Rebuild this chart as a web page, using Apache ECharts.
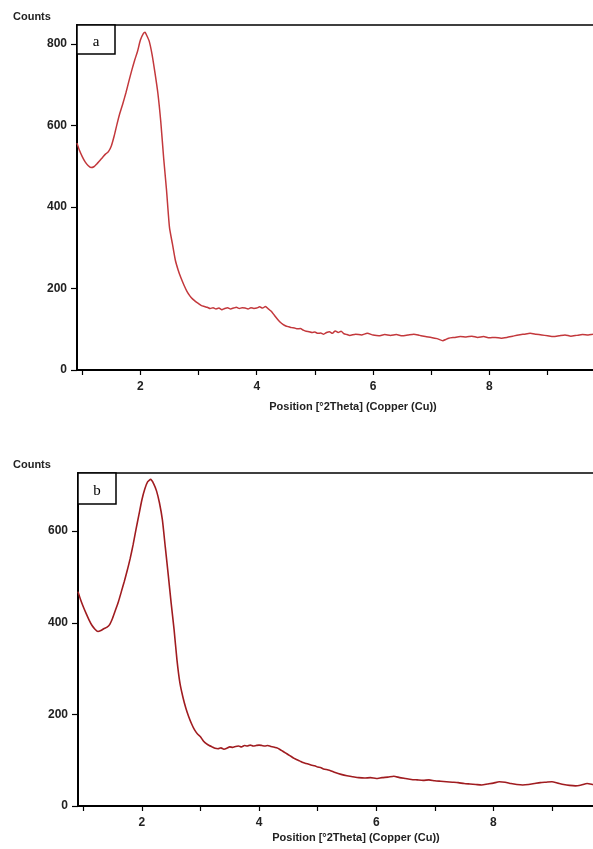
<!DOCTYPE html>
<html>
<head>
<meta charset="utf-8">
<script src="https://cdn.jsdelivr.net/npm/echarts@6/dist/echarts.min.js"></script>
<style>
  html, body { margin: 0; padding: 0; background: #fff; }
  #chart { width: 593px; height: 849px; }
</style>
</head>
<body>
<div id="chart"></div>
<script>
// pattern a
const xA = [0.91, 0.95, 1.00, 1.05, 1.10, 1.15, 1.20, 1.25, 1.30, 1.35, 1.40, 1.45, 1.50, 1.55, 1.60, 1.65, 1.70, 1.75, 1.80, 1.85,
  1.90, 1.95, 2.00, 2.05, 2.08, 2.10, 2.15, 2.20, 2.25, 2.30, 2.35, 2.40, 2.45, 2.50, 2.55, 2.60, 2.65, 2.70, 2.75, 2.80,
  2.85, 2.90, 2.95, 3.00, 3.05, 3.10, 3.15, 3.20, 3.25, 3.30, 3.35, 3.40, 3.45, 3.50, 3.55, 3.60, 3.65, 3.70, 3.75, 3.80,
  3.85, 3.90, 3.95, 4.00, 4.05, 4.10, 4.15, 4.20, 4.25, 4.30, 4.35, 4.40, 4.45, 4.50, 4.55, 4.60, 4.65, 4.70, 4.75, 4.80,
  4.85, 4.90, 4.95, 5.00, 5.05, 5.10, 5.15, 5.20, 5.25, 5.30, 5.35, 5.40, 5.45, 5.50, 5.55, 5.60, 5.70, 5.80, 5.90, 6.00,
  6.10, 6.20, 6.30, 6.40, 6.50, 6.60, 6.70, 6.80, 6.90, 7.00, 7.10, 7.20, 7.25, 7.30, 7.40, 7.50, 7.60, 7.70, 7.80, 7.90,
  8.00, 8.10, 8.20, 8.30, 8.40, 8.50, 8.60, 8.70, 8.80, 8.90, 9.00, 9.10, 9.20, 9.30, 9.40, 9.50, 9.60, 9.70, 9.80, 9.90, 10.00];
const countsA = [557, 540, 524, 511, 502, 497, 499, 506, 514, 522, 530, 536, 550, 575, 605, 632, 655, 680, 708, 735,
  760, 782, 810, 826, 829, 824, 808, 775, 730, 680, 610, 520, 440, 350, 310, 270, 245, 225, 208, 193,
  182, 174, 168, 163, 158, 156, 154, 151, 153, 150, 152, 148, 151, 153, 150, 152, 154, 151, 153, 152,
  150, 153, 151, 152, 155, 152, 156, 150, 144, 135, 126, 118, 112, 108, 106, 104, 103, 101, 102, 98,
  95, 94, 92, 93, 90, 91, 88, 92, 94, 90, 96, 92, 95, 89, 87, 85, 88, 86, 90, 86,
  84, 87, 85, 87, 84, 86, 88, 85, 82, 80, 77, 72, 75, 78, 80, 82, 81, 83, 80, 82,
  79, 80, 78, 80, 83, 86, 88, 90, 88, 86, 84, 82, 84, 86, 83, 85, 87, 86, 88, 87, 89];

// pattern b
const xB = [0.91, 0.95, 1.00, 1.05, 1.10, 1.15, 1.20, 1.25, 1.30, 1.35, 1.40, 1.45, 1.50, 1.55, 1.60, 1.65, 1.70, 1.75, 1.80, 1.85,
  1.90, 1.95, 2.00, 2.05, 2.10, 2.15, 2.20, 2.25, 2.30, 2.35, 2.40, 2.45, 2.50, 2.55, 2.60, 2.65, 2.70, 2.75, 2.80, 2.85,
  2.90, 2.95, 3.00, 3.05, 3.10, 3.15, 3.20, 3.25, 3.30, 3.35, 3.40, 3.45, 3.50, 3.55, 3.60, 3.65, 3.70, 3.75, 3.80, 3.85,
  3.90, 3.95, 4.00, 4.05, 4.10, 4.15, 4.20, 4.25, 4.30, 4.35, 4.40, 4.45, 4.50, 4.55, 4.60, 4.65, 4.70, 4.75, 4.80, 4.85,
  4.90, 4.95, 5.00, 5.05, 5.10, 5.20, 5.30, 5.40, 5.50, 5.60, 5.70, 5.80, 5.90, 6.00, 6.10, 6.20, 6.30, 6.40, 6.50, 6.60,
  6.70, 6.80, 6.90, 7.00, 7.10, 7.20, 7.30, 7.40, 7.50, 7.60, 7.70, 7.80, 7.90, 8.00, 8.10, 8.20, 8.30, 8.40, 8.50, 8.60,
  8.70, 8.80, 8.90, 9.00, 9.10, 9.20, 9.30, 9.40, 9.50, 9.60, 9.70, 9.80, 9.90, 10.00];
const countsB = [468, 452, 435, 420, 406, 394, 386, 381, 383, 387, 390, 396, 410, 428, 446, 468, 490, 514, 540, 570,
  604, 636, 668, 692, 708, 713, 704, 688, 662, 625, 565, 505, 443, 385, 318, 268, 238, 214, 195, 179,
  166, 157, 151, 142, 136, 132, 129, 126, 125, 127, 124, 126, 129, 128, 130, 131, 129, 132, 131, 133,
  131, 132, 133, 132, 131, 132, 130, 129, 127, 124, 120, 116, 112, 108, 104, 101, 98, 95, 93, 91,
  89, 88, 85, 84, 81, 78, 73, 69, 66, 64, 62, 61, 62, 60, 62, 63, 65, 62, 60, 58,
  57, 56, 57, 55, 54, 53, 52, 51, 49, 48, 47, 46, 48, 50, 53, 52, 49, 47, 46, 47,
  49, 51, 52, 53, 50, 47, 45, 44, 46, 49, 47, 45, 44, 46];

const xLabels = [2, 4, 6, 8];
const xTicks = [1, 2, 3, 4, 5, 6, 7, 8, 9, 10];
const yTicksA = [0, 200, 400, 600, 800];
const yTicksB = [0, 200, 400, 600];

const font = "'Liberation Sans', Arial, sans-serif";

function xAxisOf(gridIndex, gap) {
  return {
    type: "value",
    gridIndex: gridIndex,
    min: 0.91,
    max: 10.4,
    name: "Position [°2Theta] (Copper (Cu))",
    nameLocation: "middle",
    nameGap: gap,
    nameTextStyle: { fontFamily: font, fontWeight: "bold", fontSize: 11, color: "#222" },
    axisLine: { lineStyle: { color: "#000", width: 2 } },
    axisTick: { customValues: xTicks, length: 5, lineStyle: { color: "#000", width: 1.2 } },
    axisLabel: { customValues: xLabels, margin: 11, fontFamily: font, fontWeight: "bold", fontSize: 12, color: "#222" },
    splitLine: { show: false }
  };
}

function yAxisOf(gridIndex, max, ticks) {
  return {
    type: "value",
    gridIndex: gridIndex,
    min: 0,
    max: max,
    axisLine: { show: true, lineStyle: { color: "#000", width: 2 } },
    axisTick: { show: true, customValues: ticks, length: 6, lineStyle: { color: "#000", width: 1.2 } },
    axisLabel: { customValues: ticks, margin: 10, fontFamily: font, fontWeight: "bold", fontSize: 12, color: "#222" },
    splitLine: { show: false }
  };
}

const chart = echarts.init(document.getElementById("chart"));

const options = {
  backgroundColor: "#fff",
  animation: false,
  grid: [
    { left: 77, top: 25, width: 552, height: 345, outerBoundsMode: "none", containLabel: false,
      show: true, borderColor: "#000", borderWidth: 1.5 },
    { left: 78, top: 473, width: 556, height: 333, outerBoundsMode: "none", containLabel: false,
      show: true, borderColor: "#000", borderWidth: 1.5 }
  ],
  xAxis: [xAxisOf(0, 31), xAxisOf(1, 26)],
  yAxis: [yAxisOf(0, 847, yTicksA), yAxisOf(1, 727, yTicksB)],
  series: [
    {
      type: "line",
      xAxisIndex: 0,
      yAxisIndex: 0,
      showSymbol: false,
      smooth: 0.2,
      data: xA.map((x, i) => [x, countsA[i]]),
      lineStyle: { color: "#c3383c", width: 1.5 }
    },
    {
      type: "line",
      xAxisIndex: 1,
      yAxisIndex: 1,
      showSymbol: false,
      smooth: 0.2,
      data: xB.map((x, i) => [x, countsB[i]]),
      lineStyle: { color: "#a01c20", width: 1.6 }
    }
  ],
  graphic: [
    { type: "text", left: 13, top: 11, style: { text: "Counts", font: "bold 11px " + font, fill: "#222" } },
    { type: "text", left: 13, top: 459, style: { text: "Counts", font: "bold 11px " + font, fill: "#222" } },
    { type: "rect", z: 100, shape: { x: 77, y: 25, width: 38, height: 29 },
      style: { fill: "#fff", stroke: "#000", lineWidth: 1.5 } },
    { type: "text", z: 101, x: 96, y: 42, style: { text: "a", font: "15px 'Liberation Serif', serif", fill: "#000", align: "center", verticalAlign: "middle" } },
    { type: "rect", z: 100, shape: { x: 78, y: 473, width: 38, height: 31 },
      style: { fill: "#fff", stroke: "#000", lineWidth: 1.5 } },
    { type: "text", z: 101, x: 97, y: 491, style: { text: "b", font: "15px 'Liberation Serif', serif", fill: "#000", align: "center", verticalAlign: "middle" } }
  ]
};

chart.setOption(options);
</script>
</body>
</html>
